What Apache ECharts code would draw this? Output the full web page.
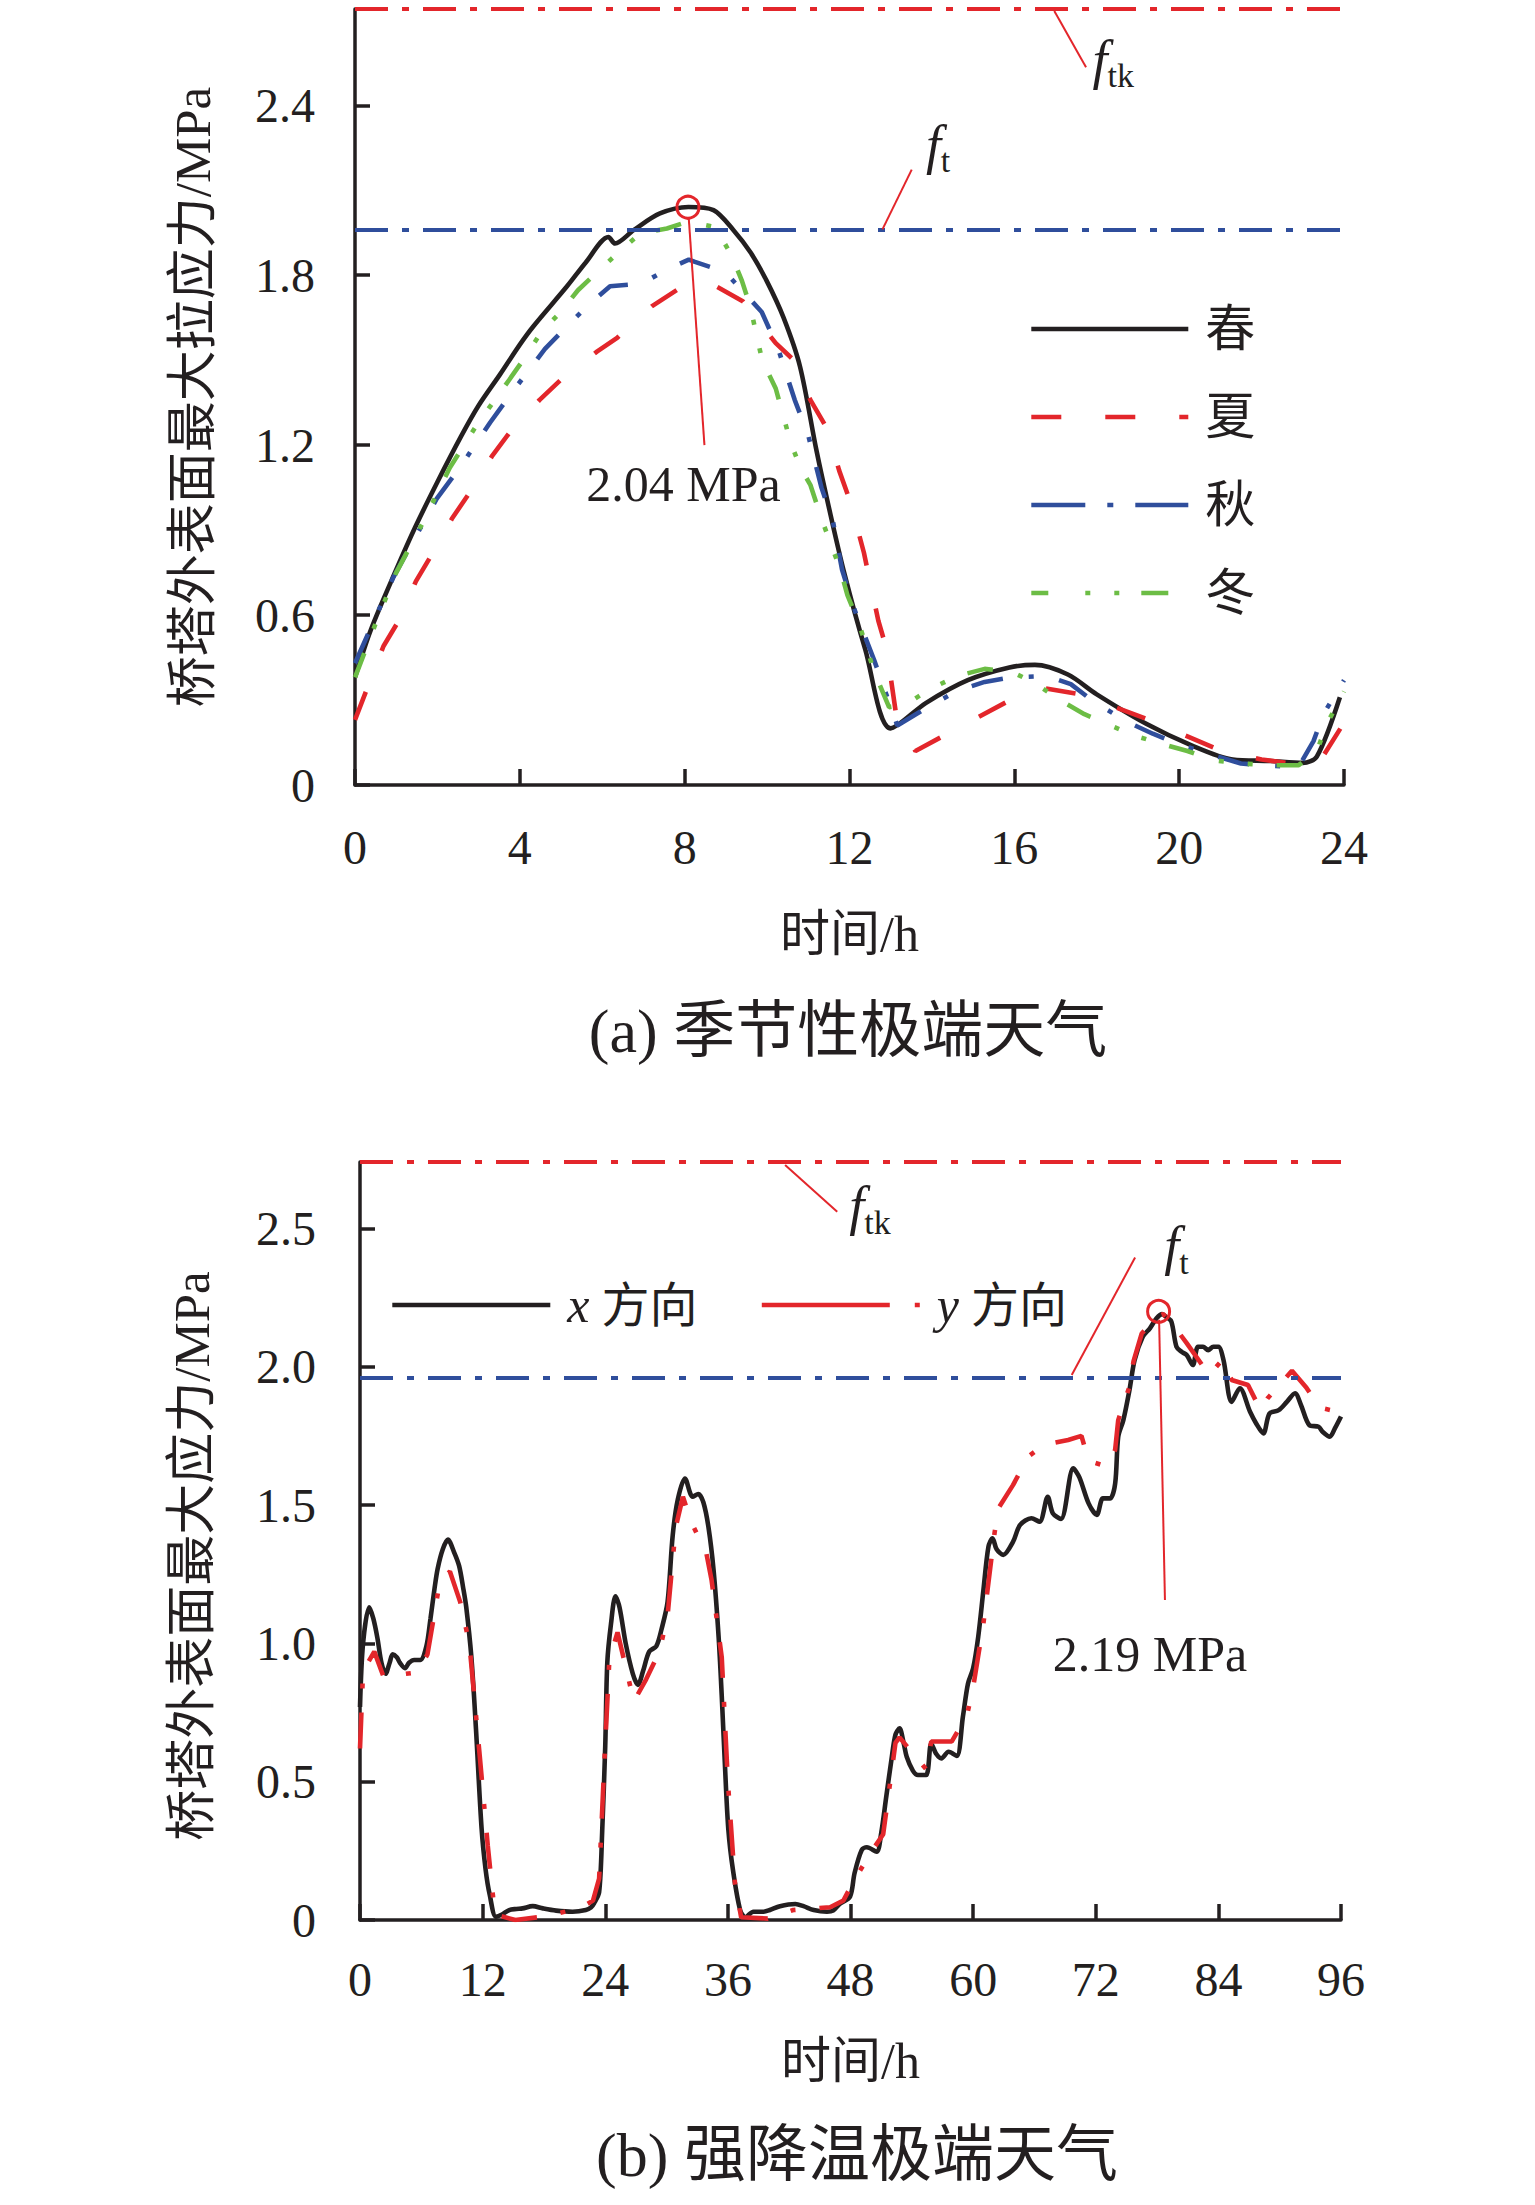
<!DOCTYPE html>
<html>
<head>
<meta charset="utf-8">
<script src="https://cdn.jsdelivr.net/npm/echarts@6/dist/echarts.min.js"></script>
<style>html,body{margin:0;padding:0;background:#fff}#c{width:1535px;height:2205px}</style>
</head>
<body>
<div id="c"></div>
<script>
// ---------- data: (a) seasonal extreme weather, [hour, MPa] ----------
const spring = [[0,0.38],[0.39,0.55],[1.0,0.76],[1.46,0.91],[2.0,1.07],[2.57,1.23],[3.0,1.34],[3.52,1.45],[4.0,1.555],[4.33,1.62],[5.14,1.76],[5.6,1.845],[6.15,1.935],[6.31,1.912],[6.76,1.959],[7.4,2.018],[8.09,2.041],[8.7,2.03],[9.18,1.96],[9.6,1.88],[9.99,1.78],[10.4,1.65],[10.8,1.477],[11.2,1.18],[11.5,0.98],[11.87,0.75],[12.38,0.48],[13.0,0.2],[13.86,0.29],[14.87,0.37],[15.88,0.415],[16.5,0.424],[17.3,0.39],[18.0,0.32],[19.2,0.216],[20.3,0.14],[21.3,0.09],[22.2,0.085],[23.0,0.078],[23.34,0.1],[23.9,0.31]];
const summer = [[0,0.23],[0.69,0.49],[1.06,0.58],[1.48,0.72],[1.89,0.82],[2.35,0.94],[2.77,1.03],[3.32,1.16],[3.78,1.25],[4.48,1.36],[4.99,1.43],[5.87,1.53],[6.37,1.58],[7.2,1.69],[7.89,1.755],[8.2,1.78],[8.77,1.76],[9.42,1.707],[10.21,1.56],[10.65,1.5],[11.05,1.36],[11.45,1.26],[11.75,1.11],[12.02,1.0],[12.35,0.82],[12.7,0.58],[12.9,0.48],[13.15,0.23],[13.6,0.12],[14.3,0.175],[15.9,0.3],[16.6,0.345],[17.6,0.32],[19.2,0.234],[20.9,0.128],[22.0,0.09],[23.0,0.07],[23.4,0.08],[24,0.22]];
const autumn = [[0,0.43],[0.92,0.73],[1.33,0.84],[1.98,1.01],[2.54,1.12],[3.28,1.28],[3.83,1.39],[4.61,1.54],[5.21,1.63],[5.7,1.7],[6.19,1.761],[6.96,1.771],[7.57,1.82],[8.1,1.855],[8.25,1.847],[8.98,1.812],[9.87,1.67],[10.27,1.54],[10.67,1.36],[11.0,1.234],[11.32,1.05],[11.6,0.93],[11.82,0.76],[12.12,0.62],[12.6,0.44],[13.16,0.21],[13.76,0.263],[14.62,0.333],[15.28,0.364],[15.93,0.38],[16.79,0.385],[17.37,0.356],[17.95,0.292],[18.75,0.222],[19.36,0.181],[19.96,0.146],[20.82,0.105],[21.5,0.076],[22.3,0.067],[22.9,0.064],[23.26,0.155],[23.5,0.25],[24,0.37]];
const winter = [[0,0.38],[0.5,0.57],[1.0,0.75],[1.66,0.93],[2.3,1.12],[2.95,1.27],[3.74,1.43],[4.15,1.515],[4.52,1.6],[4.99,1.67],[5.41,1.747],[5.87,1.81],[6.39,1.88],[6.92,1.947],[7.57,1.965],[8.09,1.99],[8.74,1.97],[9.14,1.87],[9.39,1.78],[9.59,1.69],[9.88,1.5],[10.21,1.4],[10.57,1.21],[10.81,1.12],[11.05,1.06],[11.32,0.94],[11.55,0.85],[11.78,0.76],[11.95,0.67],[12.23,0.57],[12.6,0.4],[12.96,0.275],[13.36,0.284],[13.97,0.34],[14.62,0.385],[15.28,0.41],[15.93,0.4],[16.5,0.36],[17.1,0.3],[17.7,0.25],[18.25,0.216],[18.9,0.175],[19.56,0.146],[20.2,0.12],[20.8,0.088],[21.5,0.076],[22.2,0.07],[22.9,0.07],[23.34,0.12],[23.6,0.22],[24,0.33]];

// ---------- data: (b) strong cooling extreme weather ----------
const xDir = [[0,0.77],[0.3,1.0],[0.9,1.13],[1.3,1.09],[1.7,1.02],[2.1,0.93],[2.5,0.89],[2.9,0.93],[3.2,0.96],[3.6,0.95],[3.9,0.93],[4.4,0.91],[4.8,0.93],[5.3,0.94],[5.9,0.94],[6.5,0.99],[6.9,1.09],[7.3,1.2],[7.6,1.27],[8.1,1.34],[8.6,1.375],[9.2,1.33],[9.7,1.28],[10.1,1.2],[10.4,1.13],[10.9,0.95],[11.35,0.69],[11.9,0.33],[12.3,0.18],[12.7,0.09],[13.3,0.012],[13.9,0.02],[14.6,0.036],[15.3,0.04],[15.9,0.042],[16.9,0.05],[17.9,0.042],[19.2,0.034],[20.8,0.03],[22.1,0.036],[22.6,0.045],[22.9,0.06],[23.4,0.1],[23.7,0.32],[24.0,0.63],[24.2,0.93],[24.56,1.07],[25.0,1.17],[25.4,1.13],[26.0,1.0],[26.7,0.89],[27.2,0.85],[27.7,0.9],[28.3,0.97],[29.0,0.99],[29.5,1.05],[30.1,1.15],[30.6,1.39],[31.1,1.52],[31.8,1.596],[32.55,1.53],[33.1,1.54],[33.6,1.51],[34.1,1.42],[34.6,1.265],[35.1,1.02],[35.4,0.81],[35.7,0.57],[36.04,0.33],[36.5,0.18],[37.2,0.036],[37.7,0.01],[38.5,0.03],[39.5,0.03],[40.1,0.036],[41.1,0.05],[42.6,0.058],[43.4,0.05],[44.4,0.036],[45.7,0.03],[46.3,0.034],[47.0,0.06],[47.95,0.084],[48.4,0.17],[49.1,0.253],[49.6,0.263],[50.55,0.247],[51.0,0.313],[51.5,0.446],[52.0,0.578],[52.4,0.67],[52.8,0.693],[53.2,0.64],[53.5,0.59],[54.1,0.54],[54.6,0.524],[55.4,0.524],[55.9,0.638],[56.4,0.6],[56.9,0.584],[57.6,0.608],[58.4,0.593],[59.0,0.735],[59.5,0.855],[60.0,0.91],[60.5,1.024],[61.0,1.19],[61.5,1.35],[61.9,1.38],[62.3,1.34],[62.95,1.32],[63.9,1.367],[64.6,1.428],[65.7,1.452],[66.5,1.44],[67.3,1.53],[67.8,1.47],[68.6,1.45],[69.8,1.633],[70.4,1.6],[71.3,1.506],[72.1,1.464],[72.7,1.524],[73.4,1.524],[73.9,1.578],[74.2,1.747],[74.7,1.807],[75.3,1.916],[75.8,2.024],[76.6,2.108],[77.3,2.139],[77.95,2.175],[78.5,2.19],[78.9,2.18],[79.4,2.163],[79.9,2.072],[80.4,2.054],[80.9,2.042],[81.5,2.006],[82.0,2.072],[82.5,2.072],[83.0,2.06],[83.5,2.072],[84.0,2.072],[84.5,2.024],[85.3,1.873],[86.1,1.922],[87.1,1.837],[87.7,1.795],[88.4,1.759],[89.0,1.831],[89.9,1.843],[90.7,1.873],[91.5,1.904],[92.1,1.86],[92.9,1.789],[93.8,1.783],[94.2,1.765],[94.9,1.747],[95.4,1.777],[96,1.82]];
const yDir = [[0,0.62],[0.3,0.9],[1.4,0.97],[2.3,0.88],[5.6,0.895],[6.6,0.96],[7.8,1.22],[8.8,1.26],[9.8,1.15],[10.7,1.0],[11.7,0.6],[12.5,0.27],[13.2,0.02],[15.2,0.0],[17.9,0.012],[21.5,0.042],[22.8,0.07],[23.4,0.15],[23.9,0.56],[24.4,0.94],[25.2,1.04],[26.8,0.79],[28.0,0.87],[29.3,0.97],[30.1,1.1],[30.9,1.42],[31.6,1.53],[32.4,1.44],[33.9,1.325],[34.4,1.23],[35.4,0.95],[36.0,0.5],[36.7,0.13],[37.3,0.01],[39.9,0.005],[42.4,0.036],[46.0,0.046],[47.3,0.07],[48.3,0.14],[50.1,0.25],[51.2,0.31],[52.4,0.64],[52.8,0.66],[55.4,0.545],[55.9,0.645],[57.9,0.645],[59.4,0.74],[60.0,0.84],[61.0,1.07],[62.1,1.4],[62.5,1.49],[63.9,1.572],[65.4,1.675],[66.9,1.717],[69.3,1.735],[70.6,1.75],[71.3,1.66],[73.1,1.639],[73.9,1.7],[74.2,1.807],[75.3,1.928],[75.7,2.02],[76.5,2.12],[78.0,2.18],[78.6,2.19],[79.6,2.15],[80.9,2.085],[83.1,1.97],[84.4,2.025],[85.3,1.952],[86.9,1.934],[88.1,1.845],[88.8,1.885],[91.2,1.985],[92.6,1.925],[93.9,1.852],[96,1.835]];

// ---------- ticks & reference values ----------
const xTicksA = [0, 4, 8, 12, 16, 20, 24];
const yTicksA = [0, 0.6, 1.2, 1.8, 2.4];
const xTicksB = [0, 12, 24, 36, 48, 60, 72, 84, 96];
const yTicksB = [0, 0.5, 1.0, 1.5, 2.0, 2.5];
const FT = 1.96, FTK = 2.74;
const peakA = [8.08, 2.04], peakB = [78.15, 2.2];

// ---------- styling ----------
const INK = '#231f20', RED = '#e3262b', BLUE = '#2f4e9c', GREEN = '#6cbd45';
const SERIF = "'Liberation Serif','Noto Sans CJK SC',serif";
const refDash = [33, 14, 7, 14];
const LW = 4.6;

function xAxisOf(grid, max, interval, ticks, gap, margin) {
  return {
    gridIndex: grid, type: 'value', min: 0, max: max, interval: interval,
    axisLine: { onZero: false, lineStyle: { color: INK, width: 3.5 } },
    axisTick: { inside: true, length: 16, customValues: ticks, lineStyle: { color: INK, width: 3.5 } },
    axisLabel: { customValues: ticks, margin: margin, fontSize: 48, fontFamily: SERIF, color: INK },
    splitLine: { show: false },
    name: '时间/h', nameLocation: 'middle', nameGap: gap,
    nameTextStyle: { fontSize: 50, fontFamily: SERIF, color: INK }
  };
}
function yAxisOf(grid, interval, ticks, name, gap, margin, fmt, pad) {
  return {
    gridIndex: grid, type: 'value', min: 0, max: FTK, interval: interval,
    axisLine: { lineStyle: { color: INK, width: 3.5 } },
    axisTick: { inside: true, length: 15, customValues: ticks, lineStyle: { color: INK, width: 3.5 } },
    axisLabel: { customValues: ticks, margin: margin, fontSize: 48, fontFamily: SERIF, color: INK, formatter: fmt },
    splitLine: { show: false },
    name: name, nameLocation: 'middle', nameGap: gap,
    nameTextStyle: { fontSize: 51, fontFamily: SERIF, color: INK, padding: pad }
  };
}
const fRich = {
  f: { fontStyle: 'italic', fontFamily: 'Liberation Serif', fontSize: 54, color: INK },
  s: { fontFamily: 'Liberation Serif', fontSize: 34, color: INK, padding: [32, 0, 0, 0] }
};
function textPoint(coord, text, rich, size) {
  return {
    coord: coord, symbol: 'circle', symbolSize: 1, itemStyle: { color: 'rgba(0,0,0,0)' },
    label: { show: true, position: 'inside', formatter: text, color: INK, fontSize: size || 50, fontFamily: SERIF, rich: rich }
  };
}
function circlePoint(coord) {
  return { coord: coord, symbol: 'circle', symbolSize: 22, itemStyle: { color: 'rgba(0,0,0,0)', borderColor: RED, borderWidth: 3 }, label: { show: false } };
}
function leader(a, b) {
  return [{ coord: a, lineStyle: { color: RED, width: 2, type: 'solid' } }, { coord: b }];
}
function refLine(v, color) {
  return { yAxis: v, lineStyle: { color: color, width: 3.8, type: refDash } };
}

const option = {
  animation: false,
  backgroundColor: '#fff',
  title: [
    { text: '(a) 季节性极端天气', left: 848, top: 1000, textAlign: 'center', padding: 0,
      textStyle: { fontSize: 62, fontWeight: 'normal', fontFamily: SERIF, color: INK } },
    { text: '(b) 强降温极端天气', left: 857, top: 2124, textAlign: 'center', padding: 0,
      textStyle: { fontSize: 62, fontWeight: 'normal', fontFamily: SERIF, color: INK } }
  ],
  grid: [
    { left: 355, top: 9, width: 989, height: 776 },
    { left: 360, top: 1162, width: 981, height: 758 }
  ],
  legend: [
    { orient: 'vertical', left: 1024, top: 299, itemWidth: 157, itemHeight: 20, itemGap: 38,
      itemStyle: { opacity: 0 }, lineStyle: { width: LW },
      textStyle: { fontSize: 50, fontFamily: SERIF, color: INK, padding: [0, 0, 0, 12] },
      data: [
        { name: '春' },
        { name: '夏', lineStyle: { type: [30, 44] } },
        { name: '秋', lineStyle: { type: [54, 22, 6, 22] } },
        { name: '冬', lineStyle: { type: [17, 37, 5, 24, 5, 22, 27, 200] } }
      ] },
    { orient: 'horizontal', left: 385, top: 1275, itemWidth: 158, itemHeight: 20, itemGap: 62,
      itemStyle: { opacity: 0 }, lineStyle: { width: LW },
      formatter: function (n) { return '{i|' + n.charAt(0) + '} {c|' + n.slice(1) + '}'; },
      textStyle: { fontSize: 48, fontFamily: SERIF, color: INK, padding: [0, 0, 0, 12],
        rich: { i: { fontStyle: 'italic', fontFamily: 'Liberation Serif', fontSize: 50, color: INK },
                c: { fontFamily: SERIF, fontSize: 48, color: INK } } },
      data: [ { name: 'x方向' }, { name: 'y方向', lineStyle: { type: [128, 25, 5, 100] } } ] }
  ],
  xAxis: [ xAxisOf(0, 24, 4, xTicksA, 124, 38), xAxisOf(1, 96, 12, xTicksB, 116, 35) ],
  yAxis: [
    yAxisOf(0, 0.6, yTicksA, '桥塔外表面最大拉应力/MPa', 137, 40, function (v) { return v === 0 ? '0' : v.toFixed(1); }, [0, 0, 0, 0]),
    yAxisOf(1, 0.5, yTicksB, '桥塔外表面最大应力/MPa', 143, 44, function (v) { return v === 0 ? '0' : v.toFixed(1); }, [0, 30, 0, 0])
  ],
  series: [
    { name: '春', type: 'line', xAxisIndex: 0, yAxisIndex: 0, data: spring, smooth: 0.3, symbol: 'none',
      lineStyle: { color: INK, width: LW }, itemStyle: { color: INK },
      markLine: { silent: true, symbol: ['none', 'none'], label: { show: false },
        data: [ refLine(FTK, RED), refLine(FT, BLUE),
          leader([16.97, 2.733], [17.74, 2.534]),
          leader([12.8, 1.962], [13.51, 2.173]),
          leader([8.1, 2.0], [8.48, 1.2]) ] },
      markPoint: { silent: true, data: [
          circlePoint(peakA),
          textPoint([7.97, 1.062], '2.04 MPa'),
          textPoint([18.4, 2.56], '{f|f}{s|tk}', fRich),
          textPoint([14.15, 2.26], '{f|f}{s|t}', fRich) ] } },
    { name: '夏', type: 'line', xAxisIndex: 0, yAxisIndex: 0, data: summer, symbol: 'none',
      lineStyle: { color: RED, width: LW, type: [30, 44] }, itemStyle: { color: RED } },
    { name: '秋', type: 'line', xAxisIndex: 0, yAxisIndex: 0, data: autumn, symbol: 'none',
      lineStyle: { color: BLUE, width: LW, type: [32, 26, 5, 26] }, itemStyle: { color: BLUE } },
    { name: '冬', type: 'line', xAxisIndex: 0, yAxisIndex: 0, data: winter, symbol: 'none',
      lineStyle: { color: GREEN, width: LW, type: [26, 26, 5, 24, 5, 24] }, itemStyle: { color: GREEN } },

    { name: 'x方向', type: 'line', xAxisIndex: 1, yAxisIndex: 1, data: xDir, smooth: 0.3, symbol: 'none',
      lineStyle: { color: INK, width: LW }, itemStyle: { color: INK },
      markLine: { silent: true, symbol: ['none', 'none'], label: { show: false },
        data: [ refLine(FTK, RED), refLine(FT, BLUE),
          leader([41.6, 2.729], [46.7, 2.56]),
          leader([69.65, 1.97], [75.85, 2.395]),
          leader([78.2, 2.17], [78.77, 1.157]) ] },
      markPoint: { silent: true, data: [
          circlePoint(peakB),
          textPoint([77.3, 0.96], '2.19 MPa'),
          textPoint([49.9, 2.58], '{f|f}{s|tk}', fRich),
          textPoint([79.9, 2.435], '{f|f}{s|t}', fRich) ] } },
    { name: 'y方向', type: 'line', xAxisIndex: 1, yAxisIndex: 1, data: yDir, symbol: 'none',
      lineStyle: { color: RED, width: LW, type: [36, 24, 5, 24] }, itemStyle: { color: RED } }
  ]
};

const chart = echarts.init(document.getElementById('c'), null, { renderer: 'svg' });
chart.setOption(option);
</script>
</body>
</html>
